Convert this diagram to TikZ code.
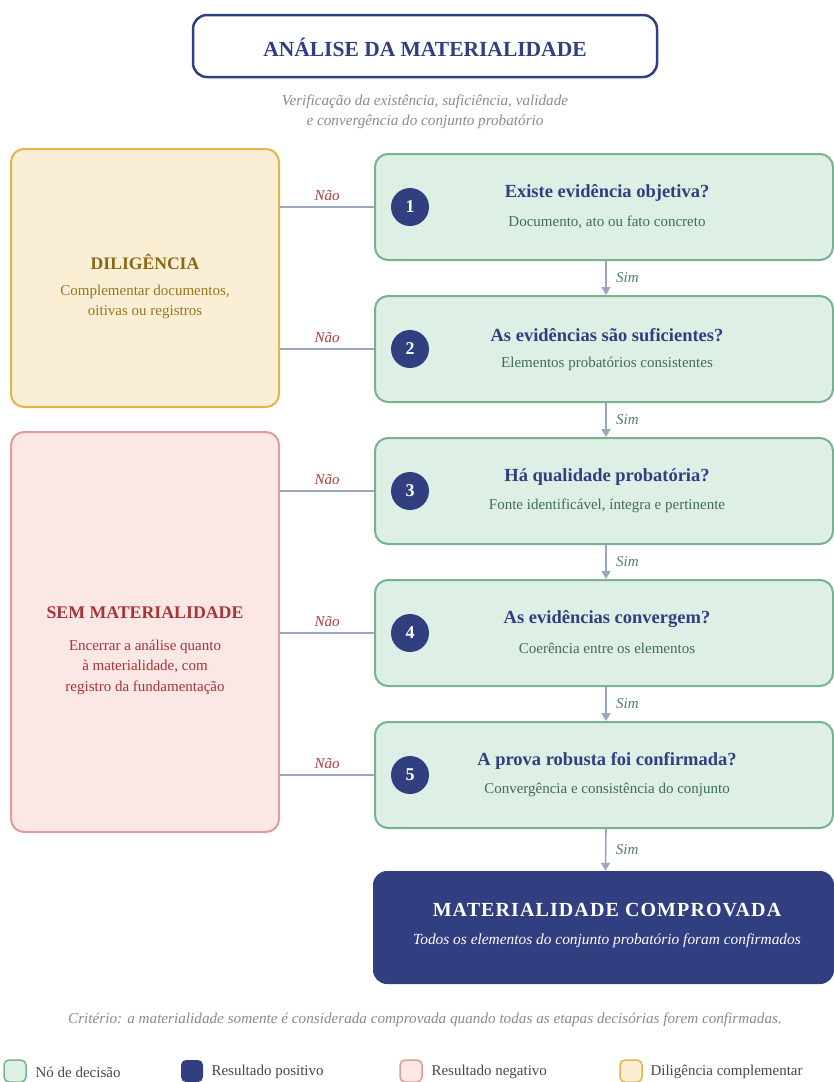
\documentclass[tikz,border=0pt]{standalone}
\usepackage{fontspec}
\setmainfont{Liberation Serif}
\usetikzlibrary{arrows.meta}
\definecolor{navy}{HTML}{313F80}
\definecolor{decfill}{HTML}{DEEFE5}
\definecolor{decline}{HTML}{78B390}
\definecolor{dectext}{HTML}{3E6E55}
\definecolor{dilfill}{HTML}{FAEFD4}
\definecolor{dilline}{HTML}{E2B54B}
\definecolor{diltitle}{HTML}{8A6712}
\definecolor{diltext}{HTML}{97761E}
\definecolor{negfill}{HTML}{FBE7E5}
\definecolor{negline}{HTML}{DE9C9C}
\definecolor{negtext}{HTML}{A83434}
\definecolor{connc}{HTML}{9AA6C2}
\definecolor{naoc}{HTML}{B03A3A}
\definecolor{simc}{HTML}{4E7E6E}
\definecolor{greyt}{HTML}{8A8A8A}
\begin{document}
\begin{tikzpicture}[x=1pt,y=-1pt,
  titlebox/.style={draw=navy,line width=2.5pt,rounded corners=14pt,fill=white,minimum width=464pt,minimum height=62pt,inner sep=0pt},
  decbox/.style={draw=decline,fill=decfill,line width=2pt,rounded corners=13pt,minimum width=458pt,minimum height=106pt,inner sep=0pt},
  dilbox/.style={draw=dilline,fill=dilfill,line width=2pt,rounded corners=13pt,minimum width=268pt,inner sep=0pt},
  negbox/.style={draw=negline,fill=negfill,line width=2pt,rounded corners=13pt,minimum width=268pt,inner sep=0pt},
  posbox/.style={fill=navy,rounded corners=14pt,minimum width=461pt,minimum height=113pt,inner sep=0pt},
  numc/.style={circle,fill=navy,minimum size=38pt,inner sep=0pt,text=white,font=\fontsize{18}{20}\selectfont\bfseries},
  dtitle/.style={text=navy,font=\fontsize{18.5}{22}\selectfont\bfseries},
  dsub/.style={text=dectext,font=\fontsize{15}{18}\selectfont},
  conn/.style={draw=connc,line width=1.6pt},
  arr/.style={draw=connc,line width=1.6pt,-{Triangle[width=9pt,length=8pt]}},
  nao/.style={text=naoc,font=\fontsize{15}{18}\selectfont\itshape},
  sim/.style={text=simc,font=\fontsize{15}{18}\selectfont\itshape},
  swatch/.style={draw=#1line,fill=#1fill,line width=1.5pt,rounded corners=5pt,minimum size=22pt,inner sep=0pt},
  legt/.style={anchor=west,text=black!72,font=\fontsize{15}{18}\selectfont}
]
\useasboundingbox (0,0) rectangle (834,1082);
\clip (0,0) rectangle (834,1082);

% header
\node[titlebox] (title) at (425,46) {};
\node[text=navy,font=\fontsize{21.5}{24}\selectfont\bfseries] (titlet) at (425,47) {ANÁLISE DA MATERIALIDADE};
\node[text=greyt,font=\fontsize{15.2}{20}\selectfont\itshape,align=center] (subt) at (425,112) {Verificação da existência, suficiência, validade\\e convergência do conjunto probatório};

% side boxes
\node[dilbox,minimum height=258pt] (dil) at (145,278) {};
\node[text=diltitle,font=\fontsize{17.6}{20}\selectfont\bfseries] (dilt) at (145,262) {DILIGÊNCIA};
\node[text=diltext,font=\fontsize{15}{20.5}\selectfont,align=center] (dils) at (145,302) {Complementar documentos,\\oitivas ou registros};

\node[negbox,minimum height=400pt] (neg) at (145,632) {};
\node[text=negtext,font=\fontsize{17.8}{20}\selectfont\bfseries] (negt) at (145,613) {SEM MATERIALIDADE};
\node[text=negtext,font=\fontsize{15}{20.5}\selectfont,align=center] (negs) at (145,667) {Encerrar a análise quanto\\à materialidade, com\\registro da fundamentação};

% decision boxes
\foreach \i/\y/\t/\s in {1/207/Existe evidência objetiva?/{Documento, ato ou fato concreto},
                         2/349/As evidências são suficientes?/Elementos probatórios consistentes,
                         3/491/Há qualidade probatória?/{Fonte identificável, íntegra e pertinente},
                         4/633/As evidências convergem?/Coerência entre os elementos,
                         5/775/A prova robusta foi confirmada?/Convergência e consistência do conjunto}{
  \node[decbox] (d\i) at (604,\y) {};
  \node[numc] (c\i) at (410,\y) {\i};
  \node[dtitle] (t\i) at (607,\y-14) {\t};
  \node[dsub] (s\i) at (607,\y+15) {\s};
}

% final box
\node[posbox] (pos) at (603.5,927.5) {};
\node[text=white,font=\fontsize{20}{22}\selectfont\bfseries\addfontfeature{LetterSpace=5.5}] (post) at (607,910) {MATERIALIDADE COMPROVADA};
\node[text=white,font=\fontsize{15.4}{17}\selectfont\itshape] (poss) at (607,941) {Todos os elementos do conjunto probatório foram confirmados};

% Não connectors
\draw[conn] (dil.east |- d1.west) -- node[nao,midway,above=2pt] {Não} (d1.west);
\draw[conn] (dil.east |- d2.west) -- node[nao,midway,above=2pt] {Não} (d2.west);
\draw[conn] (neg.east |- d3.west) -- node[nao,midway,above=2pt] {Não} (d3.west);
\draw[conn] (neg.east |- d4.west) -- node[nao,midway,above=2pt] {Não} (d4.west);
\draw[conn] (neg.east |- d5.west) -- node[nao,midway,above=2pt] {Não} (d5.west);

% Sim arrows
\foreach \a/\b in {d1/d2,d2/d3,d3/d4,d4/d5,d5/pos}{
  \draw[arr] ([xshift=2pt]\a.south) -- node[sim,midway,right=6pt] {Sim} ([xshift=2pt]\b.north);
}

% footer
\node[text=greyt,font=\fontsize{15.2}{17}\selectfont\itshape] (crit) at (425,1020) {Critério: a materialidade somente é considerada comprovada quando todas as etapas decisórias forem confirmadas.};

\node[swatch=dec] (l1) at (15,1071) {};
\node[legt] (l1t) at (32,1072) {Nó de decisão};
\node[fill=navy,rounded corners=5pt,minimum size=22pt,inner sep=0pt] (l2) at (192,1071) {};
\node[legt] (l2t) at (208,1072) {Resultado positivo};
\node[swatch=neg] (l3) at (411,1071) {};
\node[legt] (l3t) at (428,1072) {Resultado negativo};
\node[swatch=dil] (l4) at (631,1071) {};
\node[legt] (l4t) at (647,1072) {Diligência complementar};
\end{tikzpicture}
\end{document}
